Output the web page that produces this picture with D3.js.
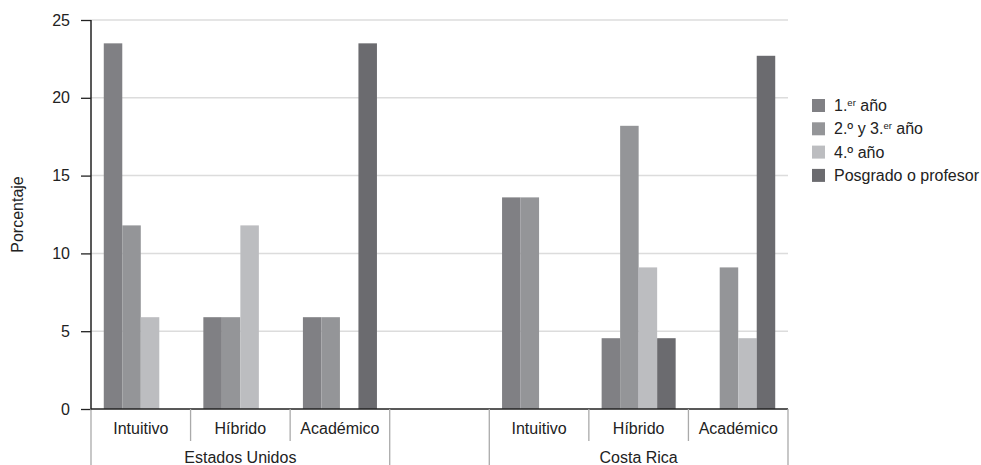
<!DOCTYPE html>
<html><head><meta charset="utf-8">
<script src="https://cdn.jsdelivr.net/npm/d3@7"></script>
<style>body{margin:0;background:#fff}svg{display:block;font-family:"Liberation Sans",Arial,sans-serif}</style>
</head><body><svg id="c" width="981" height="465"></svg>
<script>
const groups = ["Estados Unidos", "", "Costa Rica"];
const categories = ["Intuitivo", "Híbrido", "Académico"];
const slots = ["US|Intuitivo","US|Híbrido","US|Académico","gap","CR|Intuitivo","CR|Híbrido","CR|Académico"];
const seriesNames = ["1.er año", "2.º y 3.er año", "4.º año", "Posgrado o profesor"];
const colors = ["#808084", "#949598", "#bcbdc0", "#6b6b6f"];
const yTicks = [0, 5, 10, 15, 20, 25];
// values per slot, one array per series
const primero   = [23.5, 5.9, 5.9, null, 13.6, 4.55, 0];
const segundo   = [11.8, 5.9, 5.9, null, 13.6, 18.2, 9.1];
const cuarto    = [5.9, 11.8, 0, null, 0, 9.1, 4.55];
const posgrado  = [0, 0, 23.5, null, 0, 4.55, 22.7];
const seriesVals = [primero, segundo, cuarto, posgrado];

const FS = 16;
const svg = d3.select("#c");
const L = 91, R = 788, T = 20, B = 409;
const x = d3.scaleBand().domain(slots).range([L, R]).padding(0);
const xs = d3.scaleBand().domain(d3.range(4)).range([0, x.bandwidth()]).paddingInner(0).paddingOuter(0.69);
const y = d3.scaleLinear().domain([0, 25]).range([B, T]);

// grid
svg.append("g").selectAll("line").data(yTicks.filter(d => d > 0)).join("line")
  .attr("x1", L).attr("x2", R).attr("y1", d => y(d)).attr("y2", d => y(d))
  .attr("stroke", "#dcdcdc").attr("stroke-width", 1.5);

// bars
slots.forEach((s, i) => {
  if (s === "gap") return;
  seriesVals.forEach((arr, j) => {
    const v = arr[i];
    if (!v) return;
    svg.append("rect").attr("x", x(s) + xs(j)).attr("width", xs.bandwidth())
      .attr("y", y(v)).attr("height", y(0) - y(v)).attr("fill", colors[j]);
  });
});

// y axis
const ya = d3.axisLeft(y).tickValues(yTicks).tickSize(10).tickPadding(11);
const yg = svg.append("g").attr("transform", `translate(${L},0)`).call(ya);
yg.select(".domain").remove();
yg.selectAll(".tick line").attr("stroke", "#222").attr("stroke-width", 1.3);
yg.selectAll(".tick text").attr("font-size", FS).attr("fill", "#222").attr("font-family", "Liberation Sans, Arial, sans-serif");
svg.append("line").attr("x1", L).attr("x2", L).attr("y1", T).attr("y2", B).attr("stroke", "#222").attr("stroke-width", 1.5);
svg.append("line").attr("x1", L).attr("x2", L).attr("y1", B).attr("y2", 465).attr("stroke", "#aaa").attr("stroke-width", 1.3);
// baseline
svg.append("line").attr("x1", L).attr("x2", R).attr("y1", B).attr("y2", B).attr("stroke", "#222").attr("stroke-width", 1.5);

// category separators & labels
slots.forEach((s, i) => {
  const xr = x(s) + x.bandwidth();
  const long = (i === 2 || i === 3 || i === 6);
  svg.append("line").attr("x1", xr).attr("x2", xr).attr("y1", B).attr("y2", long ? 465 : 441)
    .attr("stroke", "#aaa").attr("stroke-width", 1.3);
  if (s !== "gap") {
    svg.append("text").attr("x", x(s) + x.bandwidth() / 2).attr("y", 434)
      .attr("text-anchor", "middle").attr("font-size", FS).attr("fill", "#222").text(s.split("|")[1]);
  }
});
// group labels
svg.append("text").attr("x", (x(slots[0]) + x(slots[2]) + x.bandwidth()) / 2).attr("y", 463)
  .attr("text-anchor", "middle").attr("font-size", FS).attr("fill", "#222").text(groups[0]);
svg.append("text").attr("x", (x(slots[4]) + x(slots[6]) + x.bandwidth()) / 2).attr("y", 463)
  .attr("text-anchor", "middle").attr("font-size", FS).attr("fill", "#222").text(groups[2]);

// y title
svg.append("text").attr("transform", `translate(23,${(T + B) / 2}) rotate(-90)`)
  .attr("text-anchor", "middle").attr("font-size", FS).attr("fill", "#222").text("Porcentaje");

// legend
const lg = svg.append("g").attr("transform", "translate(812,99)");
seriesNames.forEach((n, j) => {
  const g = lg.append("g").attr("transform", `translate(0,${j * 23.3})`);
  g.append("rect").attr("width", 13).attr("height", 13).attr("fill", colors[j]);
  const t = g.append("text").attr("x", 22).attr("y", 12).attr("font-size", FS).attr("fill", "#222");
  if (j === 0) {
    t.append("tspan").text("1.");
    t.append("tspan").attr("font-size", 9.5).attr("dy", -5).text("er");
    t.append("tspan").attr("dy", 5).text(" año");
  } else if (j === 1) {
    t.append("tspan").text("2.º y 3.");
    t.append("tspan").attr("font-size", 9.5).attr("dy", -5).text("er");
    t.append("tspan").attr("dy", 5).text(" año");
  } else {
    t.text(n);
  }
});
</script></body></html>
